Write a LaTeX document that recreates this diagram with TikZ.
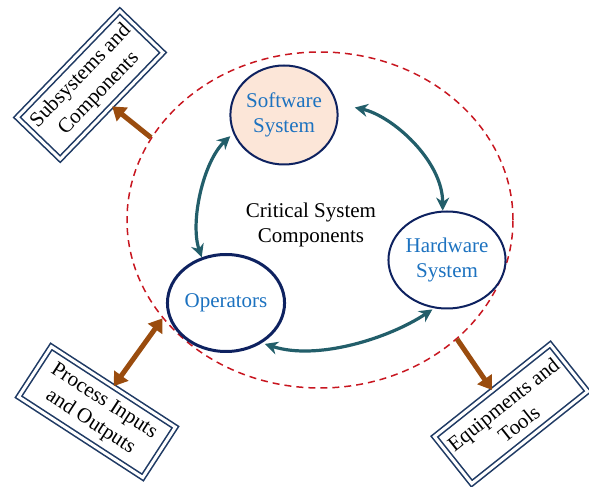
\documentclass[tikz,border=0pt]{standalone}
\usepackage{fontspec}
\setmainfont{Liberation Serif}
\usetikzlibrary{arrows.meta,shapes.geometric}
\definecolor{navyline}{RGB}{14,34,96}
\definecolor{boxline}{RGB}{31,58,100}
\definecolor{unittext}{RGB}{28,114,192}
\definecolor{linkteal}{RGB}{34,94,106}
\definecolor{flowbrown}{RGB}{154,76,14}
\definecolor{ringred}{RGB}{200,22,32}
\definecolor{peach}{RGB}{252,230,216}
\begin{document}
\begin{tikzpicture}[x=1pt,y=1pt,
  label font/.style={font=\fontsize{21}{25}\selectfont},
  unit/.style={ellipse, draw=navyline, line width=2pt, text=unittext,
    align=center, inner sep=0pt, label font},
  framebox/.style={rectangle, draw=boxline, double=white, line width=1.6pt,
    double distance=3pt, align=center, inner sep=0pt, label font,
    minimum width=148pt, minimum height=60pt},
  link/.style={draw=linkteal, line width=3.2pt,
    {Stealth[length=13pt,width=13pt]}-{Stealth[length=13pt,width=13pt]}},
  flow/.style={draw=flowbrown, line width=5pt,
    -{Triangle[length=13pt,width=17pt]}},
  flowboth/.style={draw=flowbrown, line width=5pt,
    {Triangle[length=13pt,width=17pt]}-{Triangle[length=13pt,width=17pt]}}
]
\useasboundingbox (0,0) rectangle (589,487);

% system boundary
\node[ellipse, draw=ringred, line width=1.5pt, dash pattern=on 7pt off 5pt,
  minimum width=386pt, minimum height=336pt, inner sep=0pt] (ring) at (320,267) {};

% core components
\node[unit, fill=peach, minimum width=97pt, minimum height=99pt] (sw) at (284,372) {Software\\System};
\node[unit, fill=white, minimum width=110pt, minimum height=97pt] (hw) at (447,227) {Hardware\\System};
\node[unit, fill=white, line width=3pt, minimum width=108pt, minimum height=97pt] (op) at (226,184) {Operators};
\node[align=center, label font] (core) at (311,262) {Critical System\\Components};

% external elements
\node[framebox, rotate=46] (sub) at (90,402) {Subsystems and\\Components};
\node[framebox, rotate=-33] (proc) at (97,75) {Process Inputs\\and Outputs};
\node[framebox, rotate=38.5] (equip) at (511,73) {Equipments and\\Tools};

% interactions between the core components
\draw[link, shorten <=4pt] (sw.200) .. controls +(-30,-28) and +(-12,35) .. (op.118);
\draw[link, shorten <=18pt] (sw.12) .. controls +(55,-12) and +(0,50) .. (hw.95);
\draw[link, shorten <=3pt, shorten >=2pt] (op.-48) .. controls +(55,-18) and +(-45,-30) .. (hw.255);

% links to the external elements
\draw[flow] (ring.154) -- (sub.south);
\draw[flowboth] (ring.212) -- (proc.north);
\draw[flow] (ring.-41) -- (equip.north);
\end{tikzpicture}
\end{document}
